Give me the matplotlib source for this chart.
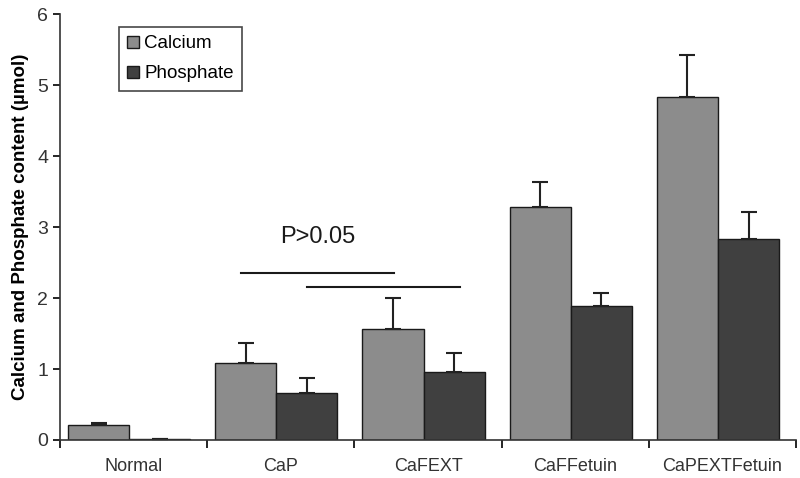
import numpy as np
from matplotlib import pyplot as plt

categories = ['Normal', 'CaP', 'CaFEXT', 'CaFFetuin', 'CaPEXTFetuin']
calcium = [0.21, 1.09, 1.56, 3.28, 4.83]
calcium_err = [0.03, 0.28, 0.44, 0.35, 0.59]
phosphate = [0.02, 0.66, 0.96, 1.89, 2.83]
phosphate_err = [0.0, 0.22, 0.26, 0.18, 0.38]

# significance bars: (x start, x end, y) in category units / data units
sig_lines = [(0.73, 1.77, 2.35), (1.18, 2.22, 2.16)]
sig_text = 'P>0.05'

plt.rcParams['font.family'] = ['Liberation Sans', 'DejaVu Sans']

fig = plt.figure(figsize=(8, 4.78), dpi=100)
ax = fig.add_axes([0.075, 0.0795, 0.92, 0.8912])

x = np.arange(len(categories))
w = 0.415
off = -0.03
err_kw = dict(ecolor='#222222', elinewidth=1.5, capsize=6, capthick=1.5)
ax.bar(x + off - w / 2, calcium, w, color='#8c8c8c', edgecolor='#1a1a1a', linewidth=1,
       yerr=[np.zeros(5), calcium_err], error_kw=err_kw, label='Calcium', zorder=2)
ax.bar(x + off + w / 2, phosphate, w, color='#404040', edgecolor='#1a1a1a', linewidth=1,
       yerr=[np.zeros(5), phosphate_err], error_kw=err_kw, label='Phosphate', zorder=2)

for x0, x1, y in sig_lines:
    ax.plot([x0, x1], [y, y], color='#1a1a1a', lw=1.5)
ax.text(1.25, 2.86, sig_text, ha='center', va='center', fontsize=17, color='#1a1a1a')

ax.set_xlim(-0.5, len(categories) - 0.5)
ax.set_ylim(0, 6)
ax.set_yticks(range(7))
ax.tick_params(axis='y', labelsize=14, labelcolor='#333333', length=5, width=1.2, direction='out')
ax.set_xticks(x)
ax.set_xticklabels(categories, fontsize=13, color='#333333')
ax.set_xticks(np.arange(-0.5, len(categories)), minor=True)
ax.tick_params(axis='x', which='major', length=0, pad=13)
ax.tick_params(axis='x', which='minor', length=6, width=1.2, direction='out')

for s in ['top', 'right']:
    ax.spines[s].set_visible(False)
for s in ['left', 'bottom']:
    ax.spines[s].set_linewidth(1.2)
    ax.spines[s].set_color('#333333')

ax.set_ylabel('Calcium and Phosphate content (\u00b5mol)', fontsize=13.5, fontweight='bold', labelpad=6)

leg = ax.legend(loc='upper left', bbox_to_anchor=(0.08, 0.97), fontsize=13.5, frameon=True,
                fancybox=False, edgecolor='#1a1a1a', handlelength=0.6, handleheight=0.6,
                handletextpad=0.3, borderpad=0.45, labelspacing=0.7, borderaxespad=0)
leg.get_frame().set_linewidth(1.2)

fig.savefig('out.png', dpi=100)
